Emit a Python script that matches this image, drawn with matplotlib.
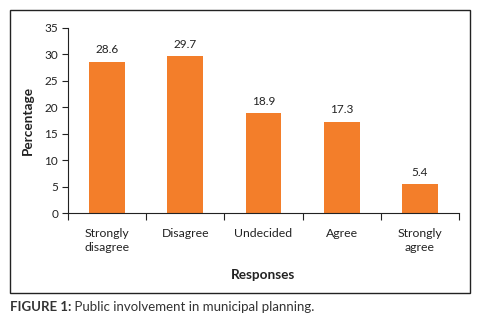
import matplotlib
matplotlib.use("Agg")
import matplotlib.pyplot as plt
from matplotlib.patches import Rectangle
import numpy as np

categories = ["Strongly\ndisagree", "Disagree", "Undecided", "Agree", "Strongly\nagree"]
values = [28.6, 29.7, 18.9, 17.3, 5.4]
yticks = [0, 5, 10, 15, 20, 25, 30, 35]

plt.rcParams['font.family'] = ['Lato', 'DejaVu Sans']

fig = plt.figure(figsize=(4.84, 3.25), dpi=100)
fig.patches.append(Rectangle((10/484, 1-293/325), 460/484, 283/325, transform=fig.transFigure,
                             fill=False, edgecolor='#222222', linewidth=1.0))

ax = fig.add_axes([68/484, 1-213/325, 391/484, 185/325])
x = np.arange(len(categories))
bars = ax.bar(x, values, width=0.46, color='#F37E2A')
for xi, v in zip(x, values):
    ax.text(xi, v + 1.2, f"{v:.1f}", ha='center', va='bottom', fontsize=8.5, color='#222222')

ax.set_xlim(-0.5, len(categories) - 0.5)
ax.set_ylim(0, 35)
ax.set_yticks(yticks)
ax.set_yticklabels([str(t) for t in yticks], fontsize=8.5, color='#222222')
ax.set_xticks(x)
ax.set_xticklabels(categories, fontsize=8.8, color='#222222', linespacing=1.25)
ax.tick_params(axis='x', length=0, pad=11)
ax.set_xticks(np.arange(len(categories) + 1) - 0.5, minor=True)
ax.tick_params(axis='x', which='minor', length=5, width=0.8, color='#222222')
ax.tick_params(axis='y', length=4, width=0.8, color='#222222', pad=3)
for s in ['top', 'right']:
    ax.spines[s].set_visible(False)
for s in ['left', 'bottom']:
    ax.spines[s].set_color('#222222')
    ax.spines[s].set_linewidth(0.8)

ax.set_ylabel("Percentage", fontsize=9.8, fontweight='bold', color='#222222', labelpad=8)
ax.set_xlabel("Responses", fontsize=9.8, fontweight='bold', color='#222222', labelpad=12)

t1 = fig.text(10/484, 1-307/325, "FIGURE 1:", fontsize=9.5, fontweight='bold', color='#333333',
              va='center', ha='left')
fig.canvas.draw()
ann = plt.annotate(" Public involvement in municipal planning.", xy=(1, 0.5), xycoords=t1,
                   va='center', ha='left', fontsize=9.5, color='#333333', annotation_clip=False)

fig.savefig("out.png", dpi=100)
